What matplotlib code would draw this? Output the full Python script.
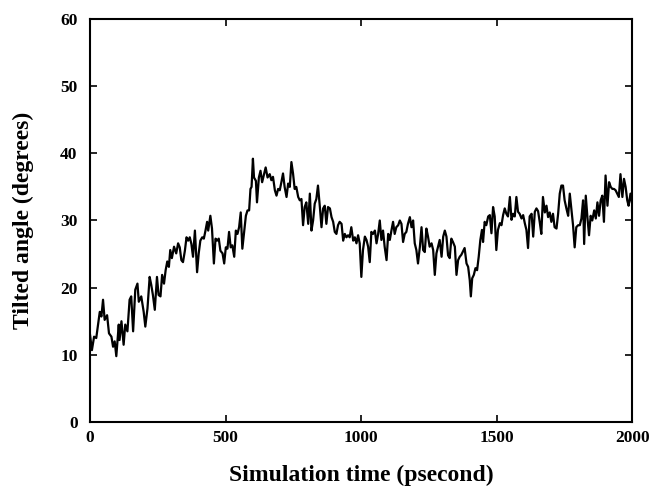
import matplotlib
matplotlib.use("Agg")
import matplotlib.pyplot as plt

# time (ps) and tilted angle (degrees)
time_ps = [
    0, 7, 15, 23, 36, 42, 48, 54, 63, 70, 79, 85, 91, 97, 106, 109, 116, 124,
    130, 138, 146, 152, 159, 167, 175, 180, 189, 198, 204, 212, 220, 226, 232,
    239, 247, 253, 260, 266, 273, 279, 285, 291, 296, 302, 310, 318, 325,
    331, 337, 343, 350, 356, 362, 368, 374, 380, 387, 395, 401, 407, 414, 420,
    426, 432, 436, 444, 450, 457, 463, 469, 475, 481, 489, 495, 501, 507, 513,
    519, 525, 532, 538, 544, 550, 556, 562, 569, 575, 581, 587, 592, 596, 601,
    605, 612, 616, 623, 629, 635, 641, 648, 655,
    663, 669, 675, 682, 688, 694, 700, 706, 712, 718, 725, 731, 737, 743, 749,
    755, 761, 768, 774, 780, 786, 792, 798, 805, 811, 817, 823, 829, 835, 841,
    848, 854, 860, 866, 872, 878, 885, 891, 897, 903, 909, 915, 921, 928, 934,
    940, 946, 952, 958, 964, 971, 977, 983, 989,
    995, 1001, 1007, 1014, 1020, 1026, 1032, 1038, 1044, 1051, 1057, 1063,
    1069, 1075, 1081, 1087, 1094, 1100, 1106, 1112, 1118, 1124, 1130, 1137,
    1143, 1149, 1155, 1161, 1167, 1173, 1180, 1186, 1192, 1198, 1204, 1210,
    1217, 1223, 1229, 1235, 1241, 1247, 1253, 1260, 1266, 1272, 1278, 1284,
    1290, 1297, 1303, 1309, 1315, 1321,
    1327, 1333, 1339, 1346, 1352, 1358, 1364, 1370, 1376, 1382, 1389, 1395,
    1401, 1405, 1410, 1416, 1422, 1428, 1434, 1440, 1446, 1450, 1456, 1462,
    1469, 1475, 1481, 1487, 1493, 1499, 1505, 1512, 1518, 1524, 1530, 1536,
    1542, 1549, 1555, 1561, 1567, 1573, 1579, 1585, 1592, 1598, 1604, 1610,
    1616, 1622, 1629, 1635, 1641, 1647, 1653,
    1659, 1665, 1671, 1678, 1684, 1690, 1696, 1702, 1708, 1714, 1721, 1727,
    1733, 1739, 1745, 1751, 1758, 1764, 1770, 1776, 1782, 1788, 1794, 1801,
    1807, 1813, 1819, 1823, 1829, 1835, 1841, 1847, 1853, 1860, 1866, 1872,
    1878, 1884, 1890, 1896, 1902, 1909, 1915, 1921, 1927, 1933, 1939, 1945,
    1951, 1957, 1964, 1970, 1976, 1982, 1987, 1994, 2000,
]
angle_deg = [
    13.0, 10.7, 12.7, 12.5, 16.4, 15.7, 18.2, 15.2, 15.9, 13.2, 12.7, 11.2,
    12.0, 9.8, 14.5, 12.2, 15.0, 11.5, 14.5, 13.5, 18.2, 18.7, 13.5, 19.7,
    20.6, 17.9, 18.7, 16.4, 14.2, 16.9, 21.6, 20.4, 18.9, 16.7, 21.6, 18.9,
    18.7, 21.9, 20.6, 22.6, 23.9, 23.1, 25.6, 24.4, 26.1, 25.1, 26.6,
    26.0, 24.1, 23.8, 25.5, 27.5, 27.0, 27.5, 26.5, 24.6, 28.5, 22.3, 25.1,
    27.0, 27.5, 27.3, 28.5, 29.8, 28.5, 30.7, 28.8, 23.6, 27.3, 27.0, 27.3,
    25.5, 25.1, 23.6, 26.0, 25.8, 28.3, 26.0, 26.3, 24.6, 28.5, 28.0, 29.0,
    31.2, 25.8, 28.5, 30.7, 31.5, 31.5, 34.7, 35.0, 39.2, 36.4, 35.9, 32.7,
    36.4, 37.4, 35.7, 36.7, 37.9, 36.4,
    36.9, 36.0, 36.5, 34.5, 33.7, 34.7, 34.5, 35.7, 37.0, 35.0, 33.5, 35.5,
    35.0, 38.7, 37.0, 34.7, 35.0, 33.5, 33.0, 33.2, 29.3, 32.0, 32.7, 29.5,
    34.0, 28.5, 30.0, 32.5, 33.2, 35.2, 32.0, 29.0, 31.8, 32.2, 29.5, 32.0,
    31.8, 30.5, 29.8, 28.3, 28.0, 29.3, 29.8, 29.5, 27.0, 28.0, 27.5, 27.8,
    27.5, 29.0, 27.0, 27.5, 26.6, 27.8,
    26.6, 21.6, 25.6, 27.6, 27.1, 26.1, 23.8, 28.3, 28.0, 28.5, 26.6, 28.0,
    30.0, 27.1, 28.5, 26.1, 24.1, 28.0, 27.1, 28.5, 29.8, 28.0, 29.0, 29.3,
    30.0, 29.5, 26.8, 28.0, 28.3, 29.5, 30.5, 29.0, 30.0, 26.6, 25.6, 23.6,
    26.1, 29.0, 25.6, 25.3, 28.8, 27.6, 26.1, 26.6, 25.6, 21.9, 25.1, 26.1,
    27.1, 24.6, 27.6, 28.5, 27.6, 24.8,
    24.4, 27.3, 26.8, 26.1, 21.9, 24.1, 24.6, 24.9, 25.4, 25.9, 23.6, 23.1,
    21.1, 18.7, 21.4, 21.9, 22.9, 22.6, 24.6, 27.1, 28.6, 26.8, 29.8, 29.3,
    30.6, 30.8, 28.1, 32.0, 30.6, 25.6, 28.6, 29.6, 29.3, 30.8, 31.8, 31.0,
    30.6, 33.5, 30.1, 31.0, 30.6, 33.5, 31.3, 31.0, 30.3, 30.8, 29.6, 28.6,
    25.9, 30.6, 31.0, 27.6, 31.3, 31.8, 31.4,
    29.8, 28.0, 33.5, 31.2, 32.2, 30.5, 31.2, 29.8, 31.0, 29.0, 28.8, 31.0,
    34.0, 35.2, 35.2, 33.0, 31.7, 30.7, 34.0, 31.7, 29.3, 26.0, 29.0, 29.3,
    29.3, 30.3, 33.0, 26.5, 33.7, 30.5, 27.8, 30.7, 30.0, 31.5, 30.3, 32.7,
    30.7, 33.0, 33.7, 29.8, 36.7, 32.2, 35.7, 35.0, 34.7, 34.7, 34.5, 34.0,
    33.5, 36.9, 33.5, 36.2, 35.0, 33.0, 32.2, 34.0, 32.5,
]

x_ticks = [0, 500, 1000, 1500, 2000]
y_ticks = [0, 10, 20, 30, 40, 50, 60]

plt.rcParams["font.family"] = ["Liberation Serif", "DejaVu Serif"]
plt.rcParams["font.weight"] = "bold"

fig = plt.figure(figsize=(6.49, 4.92), dpi=100)
ax = fig.add_axes([0.1387, 0.1423, 0.8353, 0.8191])

ax.plot(time_ps, angle_deg, color="black", linewidth=1.6)

ax.set_xlim(0, 2000)
ax.set_ylim(0, 60)
ax.set_xticks(x_ticks)
ax.set_yticks(y_ticks)
ax.tick_params(axis="both", direction="in", length=5, width=1.2,
               top=True, right=True, labelsize=12.5)
ax.tick_params(axis="x", pad=6)
ax.tick_params(axis="y", pad=9)
for lbl in ax.get_xticklabels() + ax.get_yticklabels():
    lbl.set_fontweight("bold")
for sp in ax.spines.values():
    sp.set_linewidth(1.5)

ax.set_xlabel("Simulation time (psecond)", fontsize=17, fontweight="bold",
              labelpad=13)
ax.set_ylabel("Tilted angle (degrees)", fontsize=17, fontweight="bold",
              labelpad=19)

fig.savefig("out.png", dpi=100)
